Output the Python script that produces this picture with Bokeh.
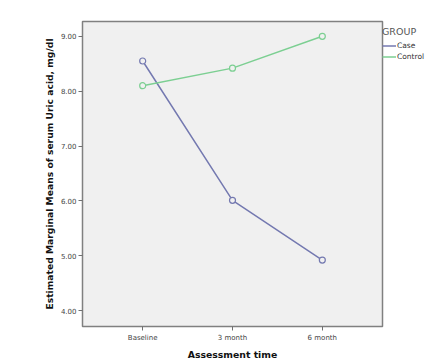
from bokeh.plotting import figure
from bokeh.models import Legend, LegendItem, FixedTicker, Range1d
from bokeh.embed import file_html
from bokeh.resources import INLINE

times = ["Baseline", "3 month", "6 month"]
case_vals = [8.55, 6.01, 4.92]
control_vals = [8.10, 8.42, 9.00]
y_ticks = [4.0, 5.0, 6.0, 7.0, 8.0, 9.0]

xs = list(range(len(times)))

p = figure(width=434, height=355, output_backend="svg", toolbar_location=None,
           x_range=Range1d(-0.67, 2.67), y_range=Range1d(3.71, 9.27),
           frame_width=300, frame_height=305,
           min_border_left=82, min_border_top=21, min_border_right=0, min_border_bottom=0)

p.background_fill_color = "#f0f0f0"
p.border_fill_color = "white"
p.outline_line_color = "#808080"
p.outline_line_width = 1.5
p.grid.visible = False

case_color = "#7479b0"
ctrl_color = "#7ccf92"

r1 = p.line(xs, case_vals, line_color=case_color, line_width=1.5)
p.scatter(xs, case_vals, marker="circle", size=6, line_color=case_color, fill_color="#f0f0f0", line_width=1.2)
r2 = p.line(xs, control_vals, line_color=ctrl_color, line_width=1.5)
p.scatter(xs, control_vals, marker="circle", size=6, line_color=ctrl_color, fill_color="#f0f0f0", line_width=1.2)

p.xaxis.ticker = FixedTicker(ticks=xs)
p.xaxis.major_label_overrides = {i: t for i, t in enumerate(times)}
p.yaxis.ticker = FixedTicker(ticks=y_ticks)
p.yaxis.major_label_overrides = {v: f"{v:.2f}" for v in y_ticks}

for ax in (p.xaxis, p.yaxis):
    ax.minor_tick_line_color = None
    ax.axis_line_color = None
    ax.major_tick_line_color = "#707070"
    ax.major_tick_in = 0
    ax.major_tick_out = 4
    ax.major_label_text_font = "DejaVu Sans"
    ax.major_label_text_font_size = "7px"
    ax.major_label_text_color = "#444444"
    ax.axis_label_text_font = "DejaVu Sans"
    ax.axis_label_text_font_style = "bold"
    ax.axis_label_text_color = "#111111"

p.xaxis.axis_label = "Assessment time"
p.xaxis.axis_label_text_font_size = "9.3px"
p.xaxis.major_label_standoff = 3
p.xaxis.axis_label_standoff = 4
p.yaxis.axis_label = "Estimated Marginal Means of serum Uric acid, mg/dl"
p.yaxis.axis_label_text_font_size = "9.2px"
p.yaxis.major_label_standoff = 2
p.yaxis.axis_label_standoff = 3

legend = Legend(items=[LegendItem(label="Case", renderers=[r1]),
                       LegendItem(label="Control", renderers=[r2])],
                location=(0, 264))
legend.title = "GROUP"
legend.title_text_font = "DejaVu Sans"
legend.title_text_font_size = "9.5px"
legend.title_text_font_style = "normal"
legend.title_text_color = "#555555"
legend.title_standoff = 3
legend.label_text_font = "DejaVu Sans"
legend.label_text_font_size = "7.5px"
legend.label_text_color = "#333333"
legend.glyph_width = 14
legend.glyph_height = 11
legend.label_height = 11
legend.label_standoff = 1
legend.spacing = 0
legend.padding = 0
legend.margin = 0
legend.border_line_color = None
legend.background_fill_alpha = 0
p.add_layout(legend, "right")

open("out.html", "w").write(file_html(p, INLINE))
